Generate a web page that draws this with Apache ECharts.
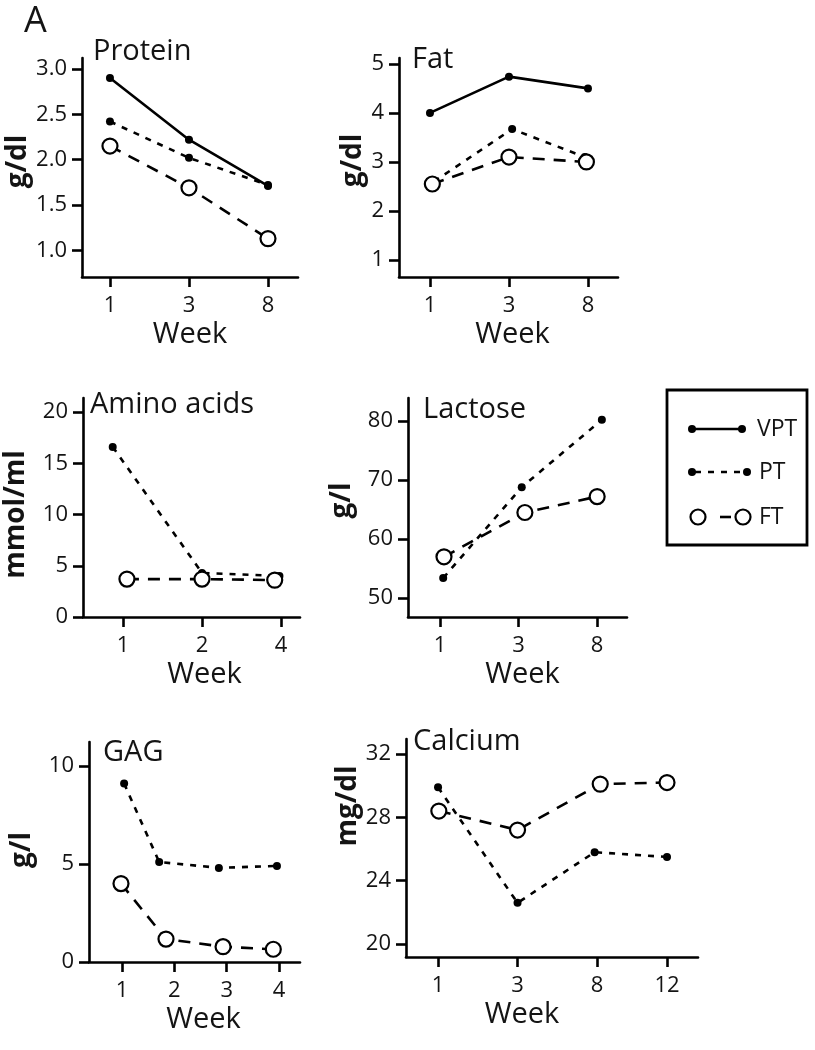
<!DOCTYPE html>
<html><head><meta charset="utf-8">
<script src="https://cdn.jsdelivr.net/npm/echarts@6/dist/echarts.min.js"></script>
<style>html,body{margin:0;padding:0;background:#fff}#c{width:815px;height:1050px}</style>
</head><body><div id="c"></div>
<script>
// ---------- DATA ----------
const seriesNames = ['VPT', 'PT', 'FT'];

const proteinWeeks = ['1', '3', '8'];
const proteinTicks = [1.0, 1.5, 2.0, 2.5, 3.0];
const proteinVPT = [2.90, 2.22, 1.71];
const proteinPT = [2.42, 2.02, 1.72];
const proteinFT = [2.15, 1.69, 1.13];

const fatWeeks = ['1', '3', '8'];
const fatTicks = [1, 2, 3, 4, 5];
const fatVPT = [4.0, 4.74, 4.5];
const fatPT = [2.6, 3.67, 3.1];
const fatPTpos = [1.05, 2.04, 2.96];
const fatFT = [2.55, 3.1, 3.0];
const fatFTpos = [1.03, 2.0, 2.98];

const aminoWeeks = ['1', '2', '4'];
const aminoTicks = [0, 5, 10, 15, 20];
const aminoPT = [16.6, 4.3, 4.0];
const aminoPTpos = [0.87, 2.0, 2.98];
const aminoFT = [3.7, 3.7, 3.6];
const aminoFTpos = [1.05, 2.0, 2.92];

const lactoseWeeks = ['1', '3', '8'];
const lactoseTicks = [50, 60, 70, 80];
const lactosePT = [53.4, 68.8, 80.2];
const lactosePTpos = [1.04, 2.04, 3.06];
const lactoseFT = [57.0, 64.5, 67.2];
const lactoseFTpos = [1.05, 2.08, 3.0];

const gagWeeks = ['1', '2', '3', '4'];
const gagTicks = [0, 5, 10];
const gagPT = [9.1, 5.1, 4.8, 4.9];
const gagPTpos = [1.04, 1.71, 2.85, 3.96];
const gagFT = [4.0, 1.17, 0.78, 0.65];
const gagFTpos = [0.98, 1.84, 2.93, 3.89];

const calciumWeeks = ['1', '3', '8', '12'];
const calciumWeekPos = [1, 2, 3, 3.88];
const calciumTicks = [20, 24, 28, 32];
const calciumPT = [29.9, 22.6, 25.8, 25.5];
const calciumPTpos = [1.0, 2.0, 2.97, 3.88];
const calciumFT = [28.4, 27.2, 30.1, 30.2];
const calciumFTpos = [1.01, 2.0, 3.04, 3.88];

// ---------- LAYOUT ----------
const FONT = '"Open Sans", "DejaVu Sans", sans-serif';
const INK = '#141414';
const LW = 2.6;
const idx = n => Array.from({length: n}, (_, i) => i + 1);

const panels = [
  {title: 'Protein', tx: 93, ty: 37, unit: 'g/dl', weeks: proteinWeeks, wpos: idx(3), yTicks: proteinTicks, dec: 1,
   box: [82, 58, 298, 277], xr: [0.646, 3.38], yr: [0.707, 3.12], ngY: 44, shY: -6, shX: 0,
   lines: [['VPT', proteinVPT, idx(3)], ['PT', proteinPT, idx(3)], ['FT', proteinFT, idx(3)]]},
  {title: 'Fat', tx: 412, ty: 45, unit: 'g/dl', weeks: fatWeeks, wpos: idx(3), yTicks: fatTicks, dec: 0,
   box: [399, 58, 618, 277], xr: [0.608, 3.38], yr: [0.653, 5.12], ngY: 29, shY: -7, shX: 4,
   lines: [['VPT', fatVPT, idx(3)], ['PT', fatPT, fatPTpos], ['FT', fatFT, fatFTpos]]},
  {title: 'Amino acids', tx: 90, ty: 390, unit: 'mmol/ml', weeks: aminoWeeks, wpos: idx(3), yTicks: aminoTicks, dec: 0,
   box: [83, 398, 300, 617], xr: [0.494, 3.24], yr: [0, 21.37], ngY: 53, shY: 7, shX: 13,
   lines: [['PT', aminoPT, aminoPTpos], ['FT', aminoFT, aminoFTpos]]},
  {title: 'Lactose', tx: 423, ty: 395, unit: 'g/l', weeks: lactoseWeeks, wpos: idx(3), yTicks: lactoseTicks, dec: 0,
   box: [408, 398, 627, 617], xr: [0.592, 3.38], yr: [46.8, 83.9], ngY: 52, shY: -7, shX: 5,
   lines: [['PT', lactosePT, lactosePTpos], ['FT', lactoseFT, lactoseFTpos]]},
  {title: 'GAG', tx: 103, ty: 738, unit: 'g/l', weeks: gagWeeks, wpos: idx(4), yTicks: gagTicks, dec: 0,
   box: [89, 742, 300, 962], xr: [0.369, 4.40], yr: [0, 11.22], ngY: 53, shY: -2, shX: 9,
   lines: [['PT', gagPT, gagPTpos], ['FT', gagFT, gagFTpos]]},
  {title: 'Calcium', tx: 413, ty: 727, unit: 'mg/dl', weeks: calciumWeeks, wpos: calciumWeekPos, yTicks: calciumTicks, dec: 0,
   box: [406, 739, 698, 957], xr: [0.597, 4.27], yr: [19.18, 32.95], ngY: 40, shY: -42, shX: -30,
   lines: [['PT', calciumPT, calciumPTpos], ['FT', calciumFT, calciumFTpos]]}
];

const styleFor = {
  VPT: {symbol: 'circle', symbolSize: 8, itemStyle: {color: '#000'}, lineStyle: {color: '#000', width: LW, type: 'solid'}, z: 3},
  PT:  {symbol: 'circle', symbolSize: 8, itemStyle: {color: '#000'}, lineStyle: {color: '#000', width: LW, type: [6, 7]}, z: 4},
  FT:  {symbol: 'circle', symbolSize: 15, itemStyle: {color: '#fff', borderColor: '#000', borderWidth: 2.2}, lineStyle: {color: '#000', width: LW, type: [12, 9]}, z: 5}
};

const grids = [], xAxes = [], yAxes = [], series = [], titles = [];
titles.push({text: 'A', left: 24, top: 4, padding: 0, textStyle: {fontFamily: FONT, fontSize: 36, fontWeight: 'normal', color: INK}});

panels.forEach((p, i) => {
  const [l, t, r, b] = p.box;
  grids.push({left: l, top: t, width: r - l, height: b - t, containLabel: false});
  titles.push({text: p.title, left: p.tx, top: p.ty, padding: 0,
    textStyle: {fontFamily: FONT, fontSize: 29, fontWeight: 'normal', color: INK}});
  const axisLine = {show: true, onZero: false, lineStyle: {color: '#000', width: LW}};
  const sx = p.shX;
  xAxes.push({
    gridIndex: i, type: 'value', min: p.xr[0], max: p.xr[1],
    axisLine,
    axisTick: {show: true, customValues: p.wpos, length: 10, lineStyle: {color: '#000', width: LW}},
    axisLabel: {show: true, customValues: p.wpos, margin: 18, fontFamily: FONT, fontSize: 22, color: INK,
      formatter: v => { const k = p.wpos.findIndex(w => Math.abs(w - v) < 1e-6); return k >= 0 ? p.weeks[k] : ''; }},
    splitLine: {show: false},
    name: 'Week', nameLocation: 'middle', nameGap: 43,
    nameTextStyle: {fontFamily: FONT, fontSize: 29, color: INK,
      padding: sx >= 0 ? [0, 0, 0, 2 * sx] : [0, -2 * sx, 0, 0]}
  });
  const sy = p.shY; // negative = up
  yAxes.push({
    gridIndex: i, type: 'value', min: p.yr[0], max: p.yr[1],
    axisLine,
    axisTick: {show: true, customValues: p.yTicks, length: 10, lineStyle: {color: '#000', width: LW}},
    axisLabel: {show: true, customValues: p.yTicks, margin: 15, fontFamily: FONT, fontSize: 22, color: INK,
      formatter: v => v.toFixed(p.dec)},
    splitLine: {show: false},
    name: p.unit, nameLocation: 'middle', nameGap: p.ngY,
    nameTextStyle: {fontFamily: FONT, fontSize: 28, fontWeight: 'bold', color: INK,
      padding: sy <= 0 ? [0, 0, 0, -2 * sy] : [0, 2 * sy, 0, 0]}
  });
  p.lines.forEach(([name, vals, pos]) => {
    const st = styleFor[name];
    series.push(Object.assign({
      type: 'line', name, xAxisIndex: i, yAxisIndex: i,
      data: vals.map((v, k) => [pos[k], v]),
      showSymbol: true, silent: true, clip: false
    }, JSON.parse(JSON.stringify(st))));
  });
});

// ---------- LEGEND (drawn) ----------
const LX = 667, LY = 390;
const legendGraphic = [
  {type: 'rect', shape: {x: LX, y: LY, width: 140, height: 155}, style: {fill: 'none', stroke: '#000', lineWidth: 2.8}},
  // VPT
  {type: 'line', shape: {x1: 692, y1: 429, x2: 742, y2: 429}, style: {stroke: '#000', lineWidth: LW}},
  {type: 'circle', shape: {cx: 692, cy: 429, r: 4}, style: {fill: '#000'}},
  {type: 'circle', shape: {cx: 742, cy: 429, r: 4}, style: {fill: '#000'}},
  {type: 'text', x: 757, y: 429, style: {text: seriesNames[0], fontFamily: FONT, fontSize: 23, fill: INK, verticalAlign: 'middle'}},
  // PT
  {type: 'line', shape: {x1: 692, y1: 472, x2: 747, y2: 472}, style: {stroke: '#000', lineWidth: LW, lineDash: [6, 7], lineDashOffset: -3}},
  {type: 'circle', shape: {cx: 692, cy: 472, r: 4}, style: {fill: '#000'}},
  {type: 'circle', shape: {cx: 747, cy: 472, r: 4}, style: {fill: '#000'}},
  {type: 'text', x: 759, y: 472, style: {text: seriesNames[1], fontFamily: FONT, fontSize: 23, fill: INK, verticalAlign: 'middle'}},
  // FT
  {type: 'line', shape: {x1: 720, y1: 517, x2: 731, y2: 517}, style: {stroke: '#000', lineWidth: LW}},
  {type: 'circle', shape: {cx: 698, cy: 517, r: 7.5}, style: {fill: '#fff', stroke: '#000', lineWidth: 2.2}},
  {type: 'circle', shape: {cx: 743, cy: 517, r: 7.5}, style: {fill: '#fff', stroke: '#000', lineWidth: 2.2}},
  {type: 'text', x: 759, y: 517, style: {text: seriesNames[2], fontFamily: FONT, fontSize: 23, fill: INK, verticalAlign: 'middle'}}
];

const chart = echarts.init(document.getElementById('c'), null, {renderer: 'canvas'});
chart.setOption({
  backgroundColor: '#fff',
  animation: false,
  title: titles,
  grid: grids,
  xAxis: xAxes,
  yAxis: yAxes,
  series: series,
  graphic: legendGraphic
});
</script>
</body></html>
